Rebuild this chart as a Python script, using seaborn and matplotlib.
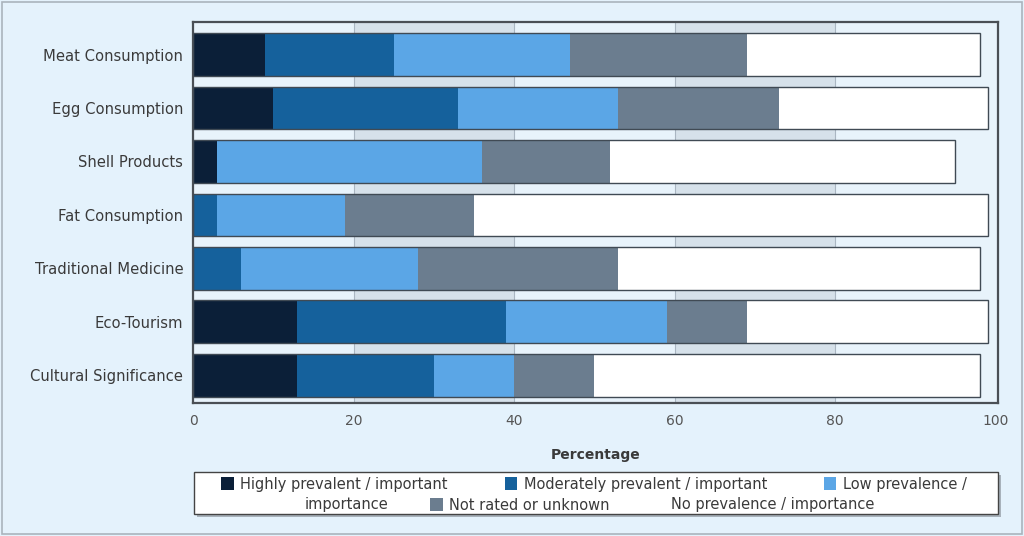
import numpy as np
import pandas as pd
import matplotlib
matplotlib.use("Agg")
import matplotlib.pyplot as plt
from matplotlib.patches import Patch, Rectangle
import seaborn as sns

# Uses of the species, and how prevalent / important each one is (percent of responses)
categories = ["Meat Consumption", "Egg Consumption", "Shell Products", "Fat Consumption",
              "Traditional Medicine", "Eco-Tourism", "Cultural Significance"]
highly = [9, 10, 3, 0, 0, 13, 13]
moderately = [16, 23, 0, 3, 6, 26, 17]
low = [22, 20, 33, 16, 22, 20, 10]
not_rated = [22, 20, 16, 16, 25, 10, 10]
none_ = [29, 26, 43, 64, 45, 30, 48]

series_names = ["Highly prevalent / important", "Moderately prevalent / important",
                "Low prevalence / importance", "Not rated or unknown",
                "No prevalence / importance"]
series_values = [highly, moderately, low, not_rated, none_]
series_colors = ["#0b1f38", "#15619c", "#5ba6e6", "#6b7d8f", "#ffffff"]
x_ticks = [0, 20, 40, 60, 80, 100]

sns.set_theme(style="white")
plt.rcParams["font.family"] = ["DejaVu Sans"]

W, H = 1024, 536
bg = "#e4f2fc"
fig = plt.figure(figsize=(W / 100, H / 100), dpi=100, facecolor=bg)
ax = fig.add_axes([193 / W, 1 - 403 / H, (998 - 193) / W, (403 - 22) / H])
ax.set_facecolor("#e8f3fb")

# alternating vertical bands and grid lines
for a, b in [(20, 40), (60, 80)]:
    ax.axvspan(a, b, color="#d6e1ea", zorder=0, lw=0)
for v in [20, 40, 60, 80]:
    ax.axvline(v, color="#aab6c2", lw=0.8, zorder=0.5)

df = pd.DataFrame({"category": categories})
cum = np.cumsum(np.array(series_values), axis=0)

# stacked bars: draw cumulative totals from the outermost layer inwards
for i in range(len(series_values) - 1, -1, -1):
    df["value"] = cum[i]
    sns.barplot(data=df, x="value", y="category", orient="h", color=series_colors[i],
                saturation=1, width=0.8, errorbar=None, edgecolor="none", linewidth=0,
                ax=ax, zorder=2)

# outline of each full bar
df["value"] = cum[-1]
sns.barplot(data=df, x="value", y="category", orient="h", fill=False, color="#3c4650",
            width=0.8, errorbar=None, linewidth=1.0, ax=ax, zorder=3)
for p in ax.patches[-len(categories):]:
    p.set_edgecolor("#404a54")

ax.set_xlim(0, 100.3)
ax.set_ylim(6.52, -0.61)
ax.set_xticks(x_ticks)
ax.set_xticklabels([str(t) for t in x_ticks])
ax.set_ylabel("")
ax.set_xlabel("Percentage", fontsize=10, fontweight="bold", color="#3a3a3a", labelpad=14)
ax.tick_params(axis="x", length=0, pad=8, labelsize=10, labelcolor="#555555")
ax.tick_params(axis="y", length=0, pad=7, labelsize=10.6, labelcolor="#3a3a3a")
for s in ax.spines.values():
    s.set_visible(True)
    s.set_color("#4a4f55")
    s.set_linewidth(1.6)

# legend box with a soft drop shadow
x0, x1, y0, y1 = 194, 998, 472, 514
fig.patches.append(Rectangle(((x0 + 3) / W, 1 - (y1 + 3) / H), (x1 - x0) / W, (y1 - y0) / H,
                             transform=fig.transFigure, facecolor="#9aa3ab", edgecolor="none",
                             alpha=0.8, zorder=1))
fig.patches.append(Rectangle((x0 / W, 1 - y1 / H), (x1 - x0) / W, (y1 - y0) / H,
                             transform=fig.transFigure, facecolor="white", edgecolor="#444444",
                             lw=1.0, zorder=2))

handles = [Patch(facecolor=c, edgecolor="none") for c in series_colors]
blank = Patch(facecolor="none", edgecolor="none")
legend_kw = dict(loc="center", frameon=False, fontsize=10.5, handlelength=0.85,
                 handleheight=0.95, handletextpad=0.45, borderpad=0, borderaxespad=0)

# the legend text flows over two lines, wrapping inside the third entry
row1 = fig.legend(handles[:3], ["Highly prevalent / important",
                                "Moderately prevalent / important", "Low prevalence /"],
                  bbox_to_anchor=(594 / W, 1 - 484 / H), ncol=3, columnspacing=3.9,
                  **legend_kw)
row2 = fig.legend([blank, handles[3], handles[4]],
                  ["importance", "Not rated or unknown", "No prevalence / importance"],
                  bbox_to_anchor=(580 / W, 1 - 505 / H), ncol=3, columnspacing=2.9,
                  **legend_kw)
for lg in (row1, row2):
    lg.set_zorder(5)
    for t in lg.get_texts():
        t.set_color("#3a3a3a")

# thin border round the whole figure
fig.patches.append(Rectangle((0.002, 0.003), 0.996, 0.994, transform=fig.transFigure,
                             fill=False, edgecolor="#aab4bd", lw=1.2))

fig.savefig("out.png", dpi=100, facecolor=bg)
